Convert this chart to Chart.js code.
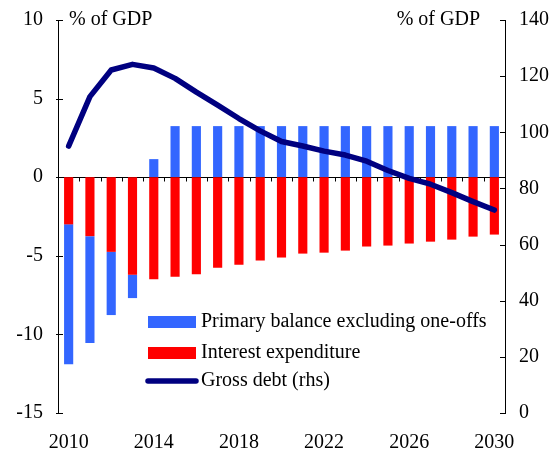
<!DOCTYPE html>
<html>
<head>
<meta charset="utf-8">
<script src="https://cdn.jsdelivr.net/npm/chart.js@4/dist/chart.umd.min.js"></script>
<style>
  html, body { margin: 0; padding: 0; background: #fff; }
  #wrap { width: 556px; height: 451px; position: relative; }
</style>
</head>
<body>
<div id="wrap"><canvas id="c" width="556" height="451"></canvas></div>
<script>
// Fiscal outlook, 2010-2030 (% of GDP)
const years = ['2010','2011','2012','2013','2014','2015','2016','2017','2018','2019','2020',
               '2021','2022','2023','2024','2025','2026','2027','2028','2029','2030'];
const interestExpenditure = [-3.0, -3.75, -4.75, -6.2, -6.49, -6.34, -6.17, -5.76, -5.57, -5.3, -5.11,
                             -4.86, -4.8, -4.67, -4.41, -4.35, -4.22, -4.1, -3.97, -3.78, -3.65];
const primaryBalance = [-8.9, -6.8, -4.02, -1.49, 1.15, 3.25, 3.25, 3.25, 3.25, 3.25, 3.25,
                        3.25, 3.25, 3.25, 3.25, 3.25, 3.25, 3.25, 3.25, 3.25, 3.25];
const grossDebt = [95.1, 112.7, 122.2, 124.2, 122.9, 119.2, 114.3, 109.7, 104.9, 100.5, 96.7,
                   95.1, 93.3, 91.9, 89.7, 86.4, 83.6, 81.5, 78.5, 75.3, 72.3];
const leftTicks = { min: -15, max: 10, step: 5 };
const rightTicks = { min: 0, max: 140, step: 20 };
const unitLabel = '% of GDP';

const FONT = "'Liberation Serif', 'Times New Roman', serif";
const FONT_SIZE = 20;
const BLUE = '#3366ff', RED = '#ff0000', NAVY = '#000080';
const DEBT_WIDTH = 5.5;

// keep the plot frame fixed: no extra room reserved for overhanging labels
function noLabelPadding(s) {
  s.paddingTop = 0; s.paddingBottom = 0; s.paddingLeft = 0; s.paddingRight = 0;
}

// Inward tick marks on both value axes, the zero line with its category ticks,
// unit captions and the in-plot legend.
const decorations = {
  id: 'decorations',
  afterDatasetDraw(chart, args) {
    // zero line sits above the bars but beneath the debt line
    if (args.index !== 1) return;
    const ctx = chart.ctx, ca = chart.chartArea;
    const x = chart.scales.x, y = chart.scales.y;
    const y0 = Math.round(y.getPixelForValue(0)) + 0.5;
    ctx.save();
    ctx.strokeStyle = '#000';
    ctx.lineWidth = 1;
    ctx.beginPath();
    ctx.moveTo(ca.left, y0);
    ctx.lineTo(ca.right, y0);
    for (let i = 1; i < years.length; i++) {
      const bx = Math.round((x.getPixelForValue(i - 1) + x.getPixelForValue(i)) / 2) + 0.5;
      ctx.moveTo(bx, y0);
      ctx.lineTo(bx, y0 + 4);
    }
    ctx.stroke();
    ctx.restore();
  },
  afterDraw(chart) {
    const ctx = chart.ctx, ca = chart.chartArea;
    const y = chart.scales.y, y1 = chart.scales.y1;
    ctx.save();
    ctx.strokeStyle = '#000';
    ctx.lineWidth = 1;
    ctx.beginPath();
    y.ticks.forEach(t => {
      const py = Math.round(y.getPixelForValue(t.value)) + 0.5;
      ctx.moveTo(ca.left - 2, py);
      ctx.lineTo(ca.left + 5, py);
    });
    y1.ticks.forEach(t => {
      const py = Math.round(y1.getPixelForValue(t.value)) + 0.5;
      ctx.moveTo(ca.right - 5, py);
      ctx.lineTo(ca.right + 1, py);
    });
    ctx.stroke();

    // unit captions
    ctx.fillStyle = '#000';
    ctx.font = FONT_SIZE + 'px ' + FONT;
    ctx.textBaseline = 'middle';
    ctx.textAlign = 'left';
    ctx.fillText(unitLabel, ca.left + 11, ca.top);
    ctx.textAlign = 'right';
    ctx.fillText(unitLabel, ca.right - 25, ca.top);

    // legend
    const ds = chart.data.datasets;
    const items = [ds[1], ds[0], ds[2]];
    const rowY = [322, 353, 381];
    const bx = 148, bw = 48;
    ctx.textAlign = 'left';
    items.forEach((d, i) => {
      const cy = rowY[i];
      if (d.type === 'line') {
        ctx.strokeStyle = d.borderColor;
        ctx.lineWidth = d.borderWidth;
        ctx.lineCap = 'round';
        ctx.beginPath();
        ctx.moveTo(bx, cy);
        ctx.lineTo(bx + bw, cy);
        ctx.stroke();
      } else {
        ctx.fillStyle = d.backgroundColor;
        ctx.fillRect(bx, cy - 6, bw, 12);
      }
      ctx.fillStyle = '#000';
      ctx.fillText(d.label, bx + bw + 5, cy);
    });
    ctx.restore();
  }
};

new Chart(document.getElementById('c'), {
  data: {
    labels: years,
    datasets: [
      { type: 'bar', label: 'Interest expenditure', data: interestExpenditure,
        backgroundColor: RED, yAxisID: 'y', order: 1,
        barPercentage: 0.43, categoryPercentage: 1.0 },
      { type: 'bar', label: 'Primary balance excluding one-offs', data: primaryBalance,
        backgroundColor: BLUE, yAxisID: 'y', order: 1,
        barPercentage: 0.43, categoryPercentage: 1.0 },
      { type: 'line', label: 'Gross debt (rhs)', data: grossDebt,
        borderColor: NAVY, backgroundColor: NAVY, borderWidth: DEBT_WIDTH, yAxisID: 'y1',
        pointRadius: 0, tension: 0, borderCapStyle: 'round', borderJoinStyle: 'round',
        order: 0 }
    ]
  },
  options: {
    responsive: false,
    animation: false,
    events: [],
    layout: { padding: { top: 20, left: 0, right: 0, bottom: 0 } },
    plugins: { legend: { display: false }, tooltip: { enabled: false } },
    scales: {
      x: {
        stacked: true,
        grid: { display: false },
        border: { display: false },
        afterFit(s) { s.height = 38; noLabelPadding(s); },
        ticks: {
          autoSkip: false, maxRotation: 0, padding: 10, color: '#000',
          font: { family: FONT, size: FONT_SIZE },
          callback(v, i) { return i % 4 === 0 ? years[i] : ''; }
        }
      },
      y: {
        stacked: true, position: 'left',
        min: leftTicks.min, max: leftTicks.max,
        afterFit(s) { s.width = 58; noLabelPadding(s); },
        grid: { display: false, drawTicks: false },
        border: { display: true, color: '#000', width: 1 },
        ticks: { stepSize: leftTicks.step, padding: 15, color: '#000',
                 font: { family: FONT, size: FONT_SIZE } }
      },
      y1: {
        position: 'right',
        min: rightTicks.min, max: rightTicks.max,
        afterFit(s) { s.width = 51; noLabelPadding(s); },
        grid: { display: false, drawTicks: false },
        border: { display: true, color: '#000', width: 1 },
        ticks: { stepSize: rightTicks.step, padding: 14, color: '#000',
                 font: { family: FONT, size: FONT_SIZE } }
      }
    }
  },
  plugins: [decorations]
});
</script>
</body>
</html>
